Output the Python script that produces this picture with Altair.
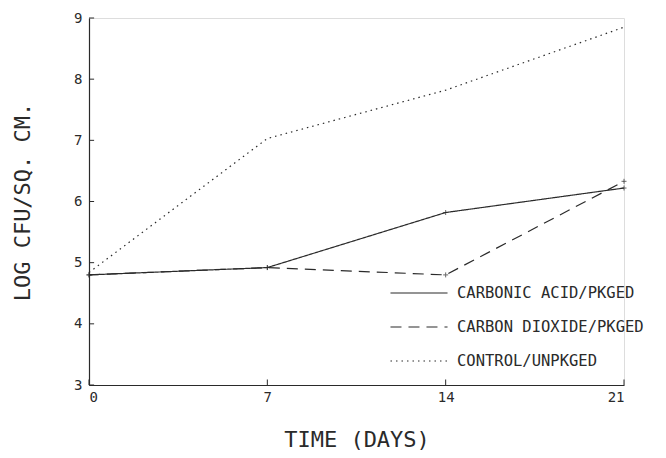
import altair as alt
import pandas as pd

days = [0, 7, 14, 21]
carbonic_acid = [4.80, 4.92, 5.82, 6.22]
carbon_dioxide = [4.80, 4.92, 4.80, 6.33]
control = [4.84, 7.03, 7.82, 8.85]
series_names = ["CARBONIC ACID/PKGED", "CARBON DIOXIDE/PKGED", "CONTROL/UNPKGED"]
x_ticks = [0, 7, 14, 21]
y_ticks = [3, 4, 5, 6, 7, 8, 9]

rows = []
for name, vals in zip(series_names, [carbonic_acid, carbon_dioxide, control]):
    for d, v in zip(days, vals):
        rows.append({"series": name, "day": d, "value": v})
df = pd.DataFrame(rows)
xt = pd.DataFrame({"day": x_ticks})
yt = pd.DataFrame({"value": y_ticks})

FONT = "DejaVu Sans Mono"
INK = "#2a2a2a"

xscale = alt.Scale(domain=[0, 21], nice=False, zero=False)
yscale = alt.Scale(domain=[3, 9], nice=False, zero=False)

x_axis = alt.Axis(values=x_ticks, format="d", ticks=False, grid=False, domainColor=INK, domainWidth=1.2,
                  labelFont=FONT, labelFontSize=14, labelColor=INK, labelPadding=5,
                  title="TIME (DAYS)", titleFont=FONT, titleFontSize=22, titleFontWeight="normal",
                  titleColor=INK, titleY=54, titleBaseline="middle")
y_axis = alt.Axis(values=y_ticks, format="d", ticks=False, grid=False, domainColor=INK, domainWidth=1.2,
                  labelFont=FONT, labelFontSize=14, labelColor=INK, labelPadding=7,
                  title="LOG CFU/SQ. CM.", titleFont=FONT, titleFontSize=22, titleFontWeight="normal",
                  titleColor=INK, titleX=-67, titleY=183.5, titleBaseline="middle", titleAlign="center")

lines = alt.Chart(df).mark_line(color=INK, strokeWidth=1.2).encode(
    x=alt.X("day:Q", scale=xscale, axis=x_axis),
    y=alt.Y("value:Q", scale=yscale, axis=y_axis),
    strokeDash=alt.StrokeDash(
        "series:N",
        scale=alt.Scale(domain=series_names, range=[[1, 0], [11, 7], [1.5, 4]]),
        legend=alt.Legend(orient="none", legendX=305, legendY=250, title=None,
                          symbolType="M-1.17,0H1.17", symbolSize=2377, symbolStrokeWidth=1.2,
                          symbolStrokeColor=INK, labelFont=FONT, labelFontSize=15.5,
                          labelColor=INK, labelOffset=13, labelLimit=400, rowPadding=0),
    ),
    detail="series:N",
)

pts = alt.Chart(df).transform_filter(
    alt.FieldOneOfPredicate(field="series", oneOf=series_names[:2])
).mark_point(shape="M-1,0H1M0,-1V1", size=25, strokeWidth=1, color=INK, filled=False).encode(
    x="day:Q", y="value:Q"
)

xtick = alt.Chart(xt).mark_rule(color=INK, strokeWidth=1).encode(
    x="day:Q", y=alt.datum(3), y2=alt.datum(3.09)
)
ytick = alt.Chart(yt).mark_rule(color=INK, strokeWidth=1).encode(
    y="value:Q", x=alt.datum(0), x2=alt.datum(0.2)
)

chart = alt.layer(lines, pts, xtick, ytick).properties(
    width=535, height=367,
    autosize=alt.AutoSizeParams(type="none"),
    padding={"left": 81, "top": 10, "right": 26, "bottom": 70},
).configure_view(stroke=None).configure(background="white")

chart.save("out.html", embed_options={"renderer": "svg", "actions": False})
